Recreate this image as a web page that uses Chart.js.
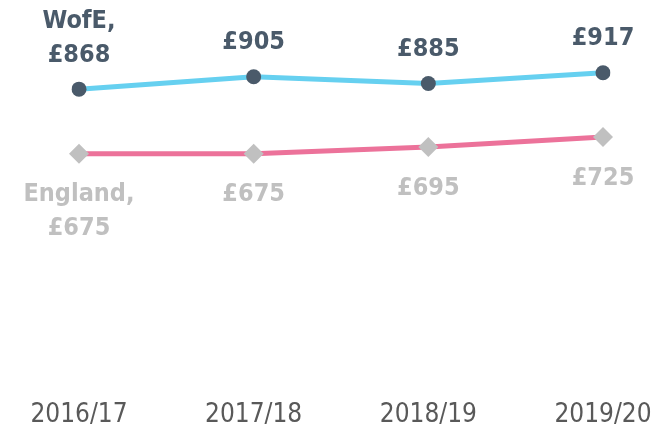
<!DOCTYPE html>
<html>
<head>
<meta charset="utf-8">
<script src="https://cdn.jsdelivr.net/npm/chart.js@4"></script>
<style>
  html, body { margin: 0; padding: 0; background: #fff; }
  #wrap { width: 659px; height: 429px; position: relative; }
</style>
</head>
<body>
<div id="wrap"><canvas id="chart"></canvas></div>
<script>
const years = ['2016/17', '2017/18', '2018/19', '2019/20'];
const wofeValues = [868, 905, 885, 917];
const englandValues = [675, 675, 695, 725];
const wofeLabels = [['WofE,', '£868'], ['£905'], ['£885'], ['£917']];
const englandLabels = [['England,', '£675'], ['£675'], ['£695'], ['£725']];

// draws the value labels above (WofE) and below (England) each point
const pointLabels = {
    id: 'pointLabels',
    afterDatasetsDraw(chart) {
        const ctx = chart.ctx;
        ctx.save();
        ctx.font = 'bold 25px "DejaVu Sans Condensed"';
        ctx.textAlign = 'center';
        ctx.textBaseline = 'middle';
        const lh = 34;
        chart.getDatasetMeta(0).data.forEach((pt, i) => {
            const lines = wofeLabels[i];
            ctx.fillStyle = '#4a5a6a';
            lines.forEach((t, j) => {
                ctx.fillText(t, pt.x, pt.y - 34 - (lines.length - 1 - j) * lh);
            });
        });
        chart.getDatasetMeta(1).data.forEach((pt, i) => {
            const lines = englandLabels[i];
            ctx.fillStyle = '#c0c0c0';
            lines.forEach((t, j) => {
                ctx.fillText(t, pt.x, pt.y + 41 + j * lh);
            });
        });
        ctx.restore();
    }
};

const ctx = document.getElementById('chart').getContext('2d');
new Chart(ctx, {
    type: 'line',
    data: {
        labels: years,
        datasets: [
            {
                label: 'WofE',
                data: wofeValues,
                borderColor: '#66d0f0',
                borderWidth: 5,
                pointStyle: 'circle',
                pointRadius: 7.5,
                pointBackgroundColor: '#4a5a6a',
                pointBorderWidth: 0,
                tension: 0
            },
            {
                label: 'England',
                data: englandValues,
                borderColor: '#ec729a',
                borderWidth: 5,
                pointStyle: 'rectRot',
                pointRadius: 10,
                pointBackgroundColor: '#c0c0c0',
                pointBorderWidth: 0,
                tension: 0
            }
        ]
    },
    options: {
        responsive: true,
        maintainAspectRatio: false,
        animation: false,
        layout: { autoPadding: false, padding: { left: 79, right: 56, top: 0, bottom: 0 } },
        plugins: {
            legend: { display: false },
            tooltip: { enabled: false }
        },
        scales: {
            x: {
                offset: false,
                grid: { display: false },
                border: { display: false },
                afterFit: (axis) => {
                    axis.height = 49;
                    axis.paddingLeft = 0;
                    axis.paddingRight = 0;
                },
                ticks: {
                    color: '#595959',
                    font: { family: 'DejaVu Sans Condensed', size: 26 },
                    padding: 12,
                    maxRotation: 0,
                    autoSkip: false
                }
            },
            y: {
                display: false,
                min: 0,
                max: 1134
            }
        }
    },
    plugins: [pointLabels]
});
</script>
</body>
</html>
